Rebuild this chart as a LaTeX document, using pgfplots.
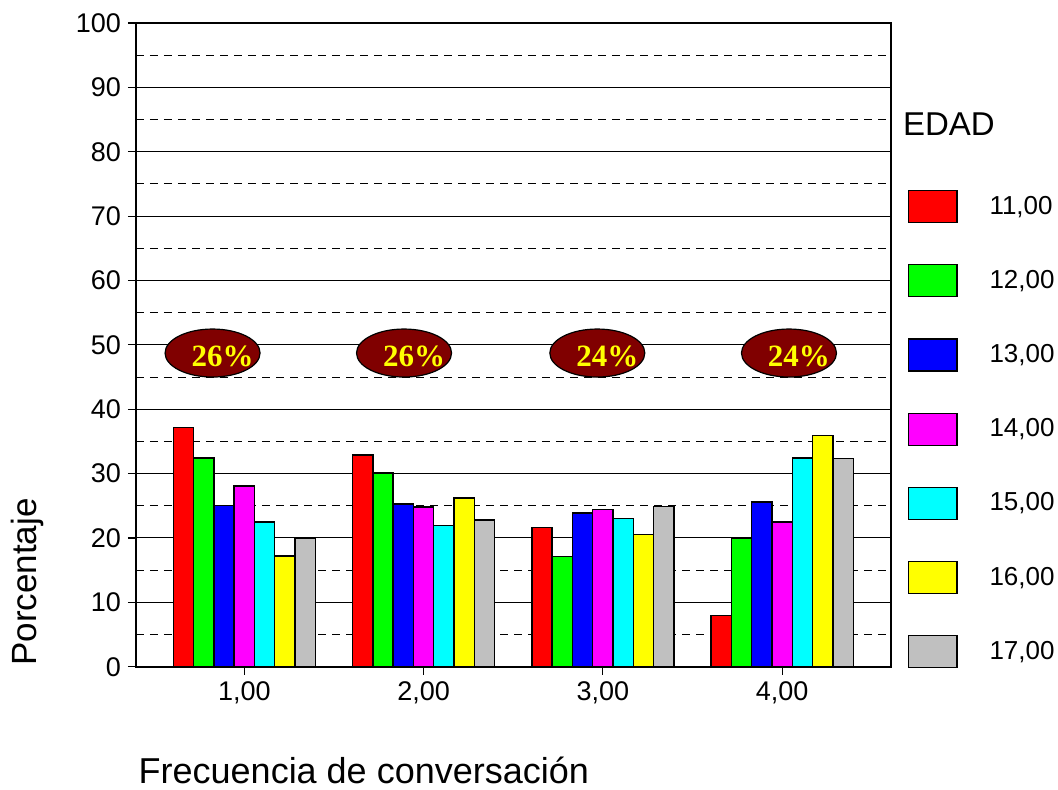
\documentclass[border=0pt]{standalone}
\usepackage{pgfplots}
\pgfplotsset{compat=1.18}
\usepackage{fontspec}
\setmainfont{Liberation Sans}
\newfontfamily\serifb{Liberation Serif}
\definecolor{cA}{HTML}{FF0000}
\definecolor{cB}{HTML}{00FF00}
\definecolor{cC}{HTML}{0000FF}
\definecolor{cD}{HTML}{FF00FF}
\definecolor{cE}{HTML}{00FFFF}
\definecolor{cF}{HTML}{FFFF00}
\definecolor{cG}{HTML}{C0C0C0}
\definecolor{ellred}{HTML}{800000}
\begin{document}
\begin{tikzpicture}
\begin{axis}[
  at={(0pt,0pt)}, anchor=south west,
  scale only axis, width=377.5pt, height=321.85pt,
  xmin=0.396, xmax=4.607, ymin=0, ymax=100,
  xtick={1,2,3,4}, xticklabels={{1,00},{2,00},{3,00},{4,00}},
  ytick={0,10,...,100}, minor ytick={5,15,...,95},
  xtick pos=bottom, ytick pos=left,
  ymajorgrids, yminorgrids,
  major grid style={black, line width=0.5pt},
  minor grid style={black, line width=0.5pt, dash pattern=on 4pt off 3pt},
  tick align=outside, major tick length=4pt, minor tick length=0pt,
  tick style={black, line width=0.6pt},
  axis line style={black, line width=0.8pt},
  tick label style={font=\fontsize{13.5}{15}\selectfont},
  /pgf/number format/assume math mode=true,
  ybar, bar width=0.1132,
  every axis plot/.append style={draw=black, line width=0.7pt},
  legend image code/.code={\draw[#1, line width=0.6pt] (0pt,-8pt) rectangle (24pt,8pt);},
  legend style={at={(1.0229,0.7406)}, anchor=north west, draw=none, fill=none,
    inner sep=0pt, outer sep=0pt, row sep=20.5pt, column sep=16pt,
    font=\fontsize{13}{14}\selectfont, cells={anchor=west}, nodes={inner sep=0pt}},
]
\addplot[fill=cA, bar shift=-0.3396] coordinates {(1,37.2) (2,32.9) (3,21.6) (4,8.0)};
\addplot[fill=cB, bar shift=-0.2264] coordinates {(1,32.4) (2,30.1) (3,17.1) (4,20.0)};
\addplot[fill=cC, bar shift=-0.1132] coordinates {(1,25.0) (2,25.3) (3,23.9) (4,25.6)};
\addplot[fill=cD, bar shift=0] coordinates {(1,28.1) (2,24.8) (3,24.4) (4,22.5)};
\addplot[fill=cE, bar shift=0.1132] coordinates {(1,22.5) (2,21.9) (3,23.0) (4,32.4)};
\addplot[fill=cF, bar shift=0.2264] coordinates {(1,17.2) (2,26.2) (3,20.5) (4,35.9)};
\addplot[fill=cG, bar shift=0.3396] coordinates {(1,20.0) (2,22.8) (3,24.9) (4,32.3)};
\legend{{11,00}, {12,00}, {13,00}, {14,00}, {15,00}, {16,00}, {17,00}}
\draw[fill=ellred, line width=0.6pt] (axis cs:0.823,48.73) ellipse [x radius=23.75pt, y radius=12pt];
\draw[fill=ellred, line width=0.6pt] (axis cs:1.891,48.73) ellipse [x radius=23.75pt, y radius=12pt];
\draw[fill=ellred, line width=0.6pt] (axis cs:2.969,48.73) ellipse [x radius=23.75pt, y radius=12pt];
\draw[fill=ellred, line width=0.6pt] (axis cs:4.038,48.73) ellipse [x radius=23.75pt, y radius=12pt];
\node[anchor=base, inner sep=0pt, xshift=5pt, text=cF, font=\serifb\bfseries\fontsize{15.5}{17}\selectfont] at (axis cs:0.823,46.6) {26\%};
\node[anchor=base, inner sep=0pt, xshift=5pt, text=cF, font=\serifb\bfseries\fontsize{15.5}{17}\selectfont] at (axis cs:1.891,46.6) {26\%};
\node[anchor=base, inner sep=0pt, xshift=5pt, text=cF, font=\serifb\bfseries\fontsize{15.5}{17}\selectfont] at (axis cs:2.969,46.6) {24\%};
\node[anchor=base, inner sep=0pt, xshift=5pt, text=cF, font=\serifb\bfseries\fontsize{15.5}{17}\selectfont] at (axis cs:4.038,46.6) {24\%};
\end{axis}
\node[rotate=90, anchor=base west, inner sep=0pt, font=\fontsize{17.5}{20}\selectfont] at (-49.65pt,0.3pt) {Porcentaje};
\node[anchor=base west, inner sep=0pt, font=\fontsize{18}{21}\selectfont] at (1.15pt,-58.6pt) {Frecuencia de conversación};
\node[anchor=base west, inner sep=0pt, font=\fontsize{16.5}{19}\selectfont] at (383.35pt,265.85pt) {EDAD};
\path[use as bounding box] (-68pt,-61.15pt) rectangle (461pt,333.35pt);
\end{tikzpicture}
\end{document}
